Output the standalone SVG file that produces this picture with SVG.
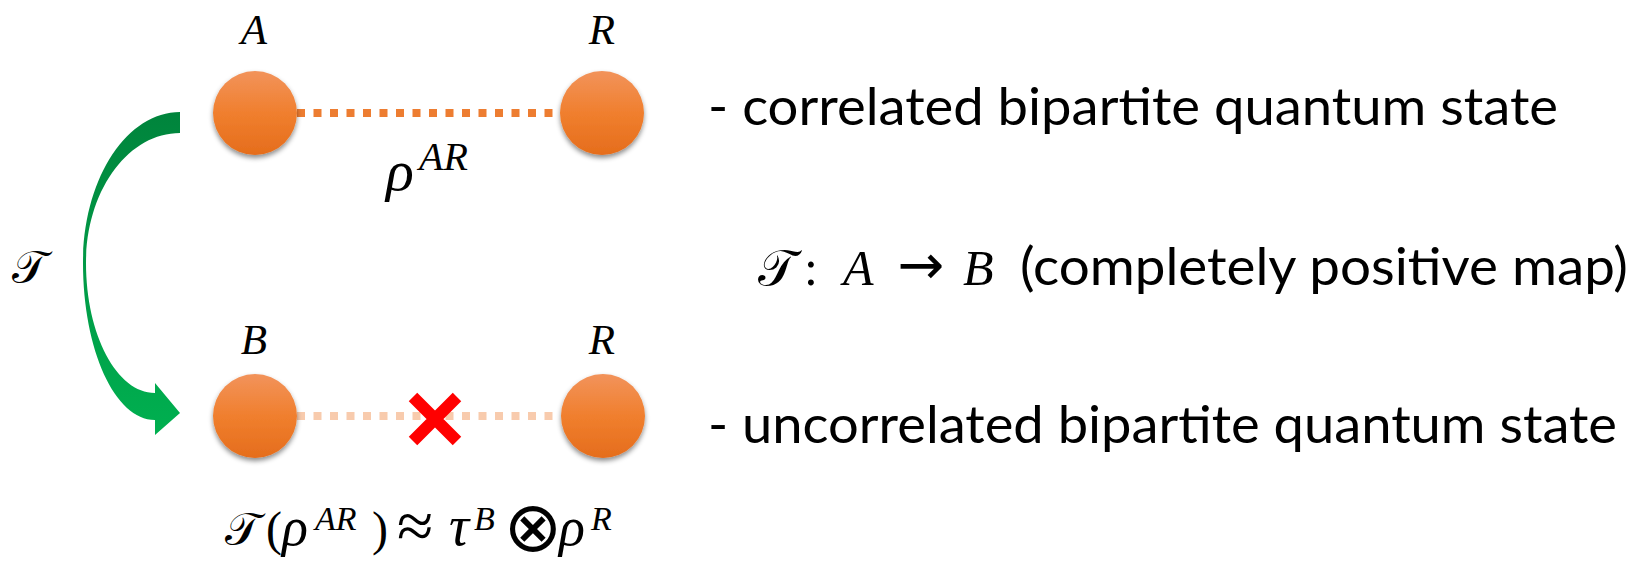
<svg xmlns="http://www.w3.org/2000/svg" width="1643" height="561" viewBox="0 0 1643 561">
<style>
.m{font-family:"Liberation Serif","DejaVu Serif",serif;font-style:italic;fill:#000}
.mu{font-family:"Liberation Serif","DejaVu Serif",serif;fill:#000}
.sy{font-family:"DejaVu Sans","Liberation Serif",serif;fill:#000}
.s{font-family:"DejaVu Serif","DejaVu Sans","Noto Sans",serif;font-style:normal;fill:#000}
.t{font-family:Lato,"Open Sans","Liberation Sans",sans-serif;font-size:53px;fill:#000}
.node{fill:url(#og);filter:url(#sh)}
</style>
<defs>
<linearGradient id="og" x1="0" y1="0" x2="0" y2="1">
<stop offset="0" stop-color="#F2935B"/>
<stop offset="0.5" stop-color="#F07F2E"/>
<stop offset="1" stop-color="#E56D1C"/>
</linearGradient>
<linearGradient id="gg" gradientUnits="userSpaceOnUse" x1="0" y1="112" x2="0" y2="435">
<stop offset="0" stop-color="#00843C"/>
<stop offset="1" stop-color="#00B050"/>
</linearGradient>
<filter id="sh" x="-30%" y="-30%" width="160%" height="170%">
<feDropShadow dx="0" dy="3" stdDeviation="2.5" flood-color="#000" flood-opacity="0.45"/>
</filter>
</defs>
<g id="connectors">
<line x1="297" y1="113" x2="560" y2="113" stroke="#ED7D31" stroke-width="8" stroke-dasharray="8 8.5"/>
<line x1="297" y1="416" x2="560" y2="416" stroke="#F8CBAD" stroke-width="8" stroke-dasharray="8 8.5"/>
<g id="arrow-T">
<path d="M180,112 C126,112 83,180 83,263 C83,350 115,420 155,420 L155,435 L180,413 L155,383 L155,393 C117,393 86,335 86,263 C86,191 128,133 180,133 Z" fill="url(#gg)"/>
</g>
<path id="cross" d="M413,397 L457,441 M457,397 L413,441" stroke="#FF0000" stroke-width="12"/>
</g>
<g id="node-A">
<circle class="node" cx="255" cy="113" r="42"/>
<text class="m" x="254" y="44" font-size="43" text-anchor="middle">A</text>
</g>
<g id="node-R1">
<circle class="node" cx="602" cy="113" r="42"/>
<text class="m" x="602" y="44" font-size="43" text-anchor="middle">R</text>
</g>
<g id="node-B">
<circle class="node" cx="255" cy="416" r="42"/>
<text class="m" x="254" y="354" font-size="43" text-anchor="middle">B</text>
</g>
<g id="node-R2">
<circle class="node" cx="603" cy="416" r="42"/>
<text class="m" x="602" y="354" font-size="43" text-anchor="middle">R</text>
</g>
<g id="label-rho">
<text class="m" x="386" y="190" font-size="58">ρ</text>
<text class="m" x="419" y="170" font-size="40">AR</text>
</g>
<g id="label-T">
<text class="s" x="12" y="283" font-size="46">𝒯</text>
</g>
<g id="label-formula">
<text class="s" x="225" y="545" font-size="46">𝒯</text>
<text class="mu" x="266" y="545" font-size="48">(</text>
<text class="m" x="282" y="545" font-size="54">ρ</text>
<text class="m" x="315" y="530" font-size="34">AR</text>
<text class="mu" x="372" y="545" font-size="48">)</text>
<text class="mu" x="415" y="548" font-size="66" text-anchor="middle">≈</text>
<text class="m" x="449" y="545" font-size="56">τ</text>
<text class="m" x="474" y="530" font-size="34">B</text>
<text class="sy" x="533" y="551" font-size="70" text-anchor="middle">⊗</text>
<text class="m" x="559" y="545" font-size="54">ρ</text>
<text class="m" x="591" y="530" font-size="34">R</text>
</g>
<g id="text-top">
<text class="t" x="708" y="125" textLength="850" lengthAdjust="spacingAndGlyphs">- correlated bipartite quantum state</text>
</g>
<g id="text-map">
<text class="s" x="758" y="285" font-size="50">𝒯</text>
<text class="mu" x="804" y="285" font-size="50">:</text>
<text class="m" x="843" y="285" font-size="50">A</text>
<text class="sy" x="921" y="284" font-size="56" text-anchor="middle">→</text>
<text class="m" x="963" y="285" font-size="50">B</text>
<text class="t" x="1020" y="285" textLength="608" lengthAdjust="spacingAndGlyphs">(completely positive map)</text>
</g>
<g id="text-bottom">
<text class="t" x="708" y="443" textLength="909" lengthAdjust="spacingAndGlyphs">- uncorrelated bipartite quantum state</text>
</g>
</svg>
